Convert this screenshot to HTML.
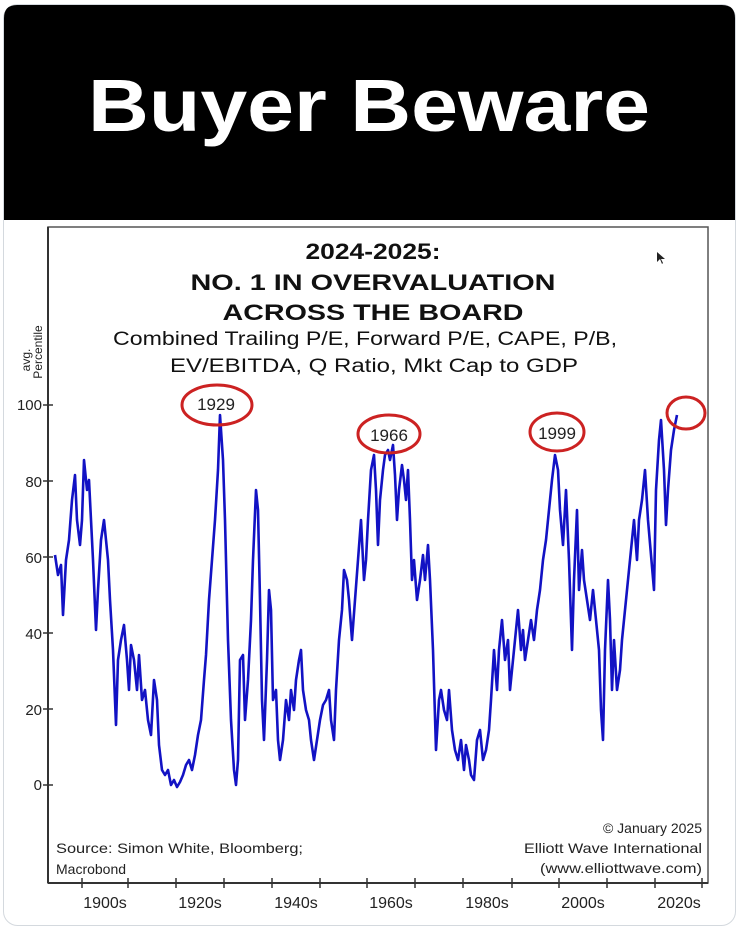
<!DOCTYPE html>
<html><head><meta charset="utf-8"><style>
html,body{margin:0;padding:0;background:#fff;}
svg{display:block;font-family:"Liberation Sans",Arial,sans-serif;}
</style></head><body>
<svg width="739" height="929" viewBox="0 0 739 929" xmlns="http://www.w3.org/2000/svg">
<rect x="3.5" y="4.5" width="732" height="921" rx="14" fill="#fff" stroke="#d4d9de"/>
<path d="M4 220 V18 Q4 5 17 5 H722 Q735 5 735 18 V220 Z" fill="#000"/>
<text x="369" y="131" text-anchor="middle" fill="#fff" font-weight="bold" font-size="74" textLength="562" lengthAdjust="spacingAndGlyphs">Buyer Beware</text>
<rect x="48" y="227" width="660" height="656" fill="#fff" stroke="#555" stroke-width="1.5"/>
<line x1="48" y1="883" x2="708" y2="883" stroke="#333" stroke-width="2"/>
<line x1="48" y1="227" x2="48" y2="883" stroke="#333" stroke-width="2"/>
<g fill="#111" text-anchor="middle">
<text x="373" y="259" font-weight="bold" font-size="22" textLength="135" lengthAdjust="spacingAndGlyphs">2024-2025:</text>
<text x="373" y="290" font-weight="bold" font-size="22" textLength="365" lengthAdjust="spacingAndGlyphs">NO. 1 IN OVERVALUATION</text>
<text x="373" y="320" font-weight="bold" font-size="22" textLength="301" lengthAdjust="spacingAndGlyphs">ACROSS THE BOARD</text>
<text x="365" y="345" font-size="19" textLength="504" lengthAdjust="spacingAndGlyphs">Combined Trailing P/E, Forward P/E, CAPE, P/B,</text>
<text x="374" y="372" font-size="19" textLength="408" lengthAdjust="spacingAndGlyphs">EV/EBITDA, Q Ratio, Mkt Cap to GDP</text>
</g>
<path d="M657 252 l0 10 l3 -3 l2 5 l1 -1 l-2 -4 l4 0 z" fill="#222"/>
<g fill="#222" font-size="12" text-anchor="middle">
<text transform="translate(30,360) rotate(-90)">avg.</text>
<text transform="translate(42,352) rotate(-90)">Percentile</text>
</g>
<g fill="#222" font-size="15" text-anchor="end">
<text x="42" y="410">100</text><text x="42" y="487">80</text><text x="42" y="563">60</text>
<text x="42" y="639">40</text><text x="42" y="715">20</text><text x="42" y="790">0</text>
</g>
<g stroke="#333" stroke-width="1.5">
<line x1="43" y1="405" x2="53" y2="405"/><line x1="43" y1="481" x2="53" y2="481"/><line x1="43" y1="557" x2="53" y2="557"/>
<line x1="43" y1="633" x2="53" y2="633"/><line x1="43" y1="709" x2="53" y2="709"/><line x1="43" y1="785" x2="53" y2="785"/>
<line x1="82" y1="878" x2="82" y2="888"/><line x1="128" y1="878" x2="128" y2="888"/><line x1="176" y1="878" x2="176" y2="888"/>
<line x1="224" y1="878" x2="224" y2="888"/><line x1="272" y1="878" x2="272" y2="888"/><line x1="320" y1="878" x2="320" y2="888"/>
<line x1="367" y1="878" x2="367" y2="888"/><line x1="415" y1="878" x2="415" y2="888"/><line x1="463" y1="878" x2="463" y2="888"/>
<line x1="512" y1="878" x2="512" y2="888"/><line x1="559" y1="878" x2="559" y2="888"/><line x1="607" y1="878" x2="607" y2="888"/>
<line x1="655" y1="878" x2="655" y2="888"/><line x1="702" y1="878" x2="702" y2="888"/>
</g>
<g fill="#222" font-size="16" text-anchor="middle">
<text x="105" y="908">1900s</text><text x="200" y="908">1920s</text><text x="296" y="908">1940s</text>
<text x="391" y="908">1960s</text><text x="487" y="908">1980s</text><text x="583" y="908">2000s</text><text x="679" y="908">2020s</text>
</g>
<g fill="#222" font-size="14">
<text x="56" y="853" textLength="247" lengthAdjust="spacingAndGlyphs">Source: Simon White, Bloomberg;</text>
<text x="56" y="874">Macrobond</text>
<text x="702" y="833" text-anchor="end">© January 2025</text>
<text x="702" y="853" text-anchor="end" textLength="178" lengthAdjust="spacingAndGlyphs">Elliott Wave International</text>
<text x="702" y="873" text-anchor="end" textLength="162" lengthAdjust="spacingAndGlyphs">(www.elliottwave.com)</text>
</g>
<polyline fill="none" stroke="#1212c4" stroke-width="2.6" stroke-linejoin="round" points="55,555 58,575 61,565 63,615 66,560 69,540 72,500 75,475 77,520 80,545 82,520 84,460 87,490 89,480 91,520 93,560 96,630 98,590 101,540 104,520 106,540 108,560 110,600 113,650 116,725 118,660 121,640 124,625 127,660 129,690 131,645 134,660 137,690 139,655 142,700 145,690 148,720 151,735 154,680 157,700 159,745 162,770 165,775 168,770 171,785 174,780 177,787 180,782 183,775 186,765 189,760 192,770 195,755 198,735 201,720 204,680 206,655 209,600 212,560 215,520 218,470 220,415 223,460 225,520 228,640 231,720 234,770 236,785 238,760 240,660 243,655 245,720 248,680 251,620 253,560 256,490 258,510 260,600 262,700 264,740 267,660 269,590 271,610 273,700 276,690 278,740 280,760 283,740 286,700 289,720 291,690 294,710 296,680 299,660 301,650 303,690 306,710 309,720 311,740 314,760 317,740 320,720 323,705 326,700 329,690 331,720 334,740 336,690 339,640 342,610 344,570 347,580 349,600 352,640 355,600 358,560 361,520 364,580 366,560 368,520 371,470 374,455 376,490 378,545 380,500 383,470 385,455 388,450 390,460 393,445 395,475 397,520 399,490 402,465 404,480 406,500 408,470 410,520 412,580 414,560 417,600 420,580 423,555 425,580 428,545 430,580 433,650 436,750 439,700 441,690 444,710 447,720 449,690 452,730 455,750 458,760 461,740 464,770 466,745 469,760 471,775 474,780 477,740 480,730 483,760 486,750 489,730 491,700 494,650 497,690 499,650 502,620 505,660 508,640 510,690 513,660 515,640 518,610 521,650 523,630 525,660 528,640 531,620 534,640 537,610 540,590 543,560 546,540 549,510 552,480 555,455 558,470 560,510 563,545 566,490 569,560 572,650 574,580 577,510 579,590 582,550 584,580 587,600 590,620 593,590 596,620 599,650 601,710 603,740 605,650 608,580 610,620 612,690 614,640 617,690 620,670 622,640 625,610 628,580 631,550 634,520 637,560 639,520 642,500 645,470 648,520 651,555 654,590 656,490 659,440 661,420 664,470 666,525 668,490 671,450 674,430 677,415"/>
<g fill="none" stroke="#cc2222" stroke-width="3">
<ellipse cx="217" cy="405" rx="35" ry="20"/>
<ellipse cx="389" cy="434" rx="31" ry="19"/>
<ellipse cx="557" cy="432" rx="27" ry="19"/>
<ellipse cx="686" cy="413" rx="19" ry="16"/>
</g>
<g fill="#222" font-size="17" text-anchor="middle">
<text x="216" y="410">1929</text><text x="389" y="441">1966</text><text x="557" y="439">1999</text>
</g>
</svg>
</body></html>
